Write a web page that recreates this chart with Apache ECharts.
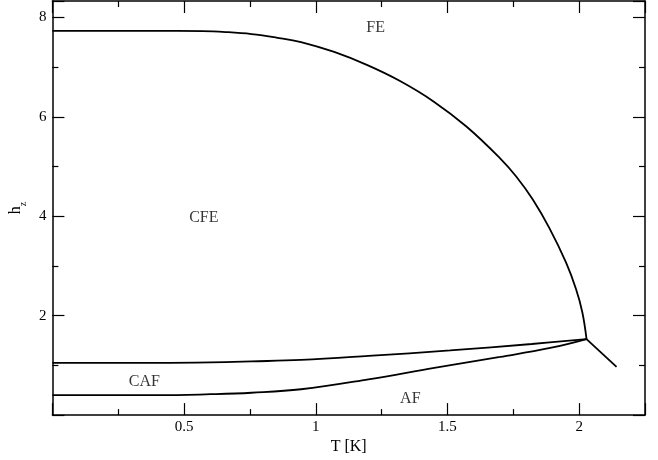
<!DOCTYPE html>
<html>
<head>
<meta charset="utf-8">
<script src="https://cdn.jsdelivr.net/npm/echarts@6/dist/echarts.min.js"></script>
<style>
html,body{margin:0;padding:0;background:#fff;}
#c{width:658px;height:460px;}
</style>
</head>
<body>
<div id="c"></div>
<script>
// Phase boundary data
const upperT = [0, 0.38, 0.57, 0.66, 0.756, 0.85, 0.944, 1.07, 1.196, 1.32, 1.447, 1.573, 1.699, 1.761, 1.824, 1.887, 1.95, 1.988, 2.012, 2.028];
const upperH = [7.73, 7.73, 7.725, 7.705, 7.665, 7.595, 7.505, 7.305, 7.04, 6.72, 6.31, 5.80, 5.17, 4.80, 4.335, 3.76, 3.07, 2.535, 2.07, 1.53];

const middleT = [0, 0.4, 0.6, 0.756, 0.944, 1.2, 1.51, 1.82, 2.028];
const middleH = [1.05, 1.05, 1.06, 1.08, 1.11, 1.19, 1.30, 1.43, 1.53];

const lowerT = [0, 0.4, 0.6, 0.756, 0.944, 1.2, 1.45, 1.7, 1.89, 2.028];
const lowerH = [0.40, 0.40, 0.42, 0.45, 0.52, 0.72, 0.95, 1.17, 1.35, 1.53];

const tailT = [2.028, 2.142];
const tailH = [1.53, 0.97];

const phaseNames = ['FE', 'CFE', 'CAF', 'AF'];
const phaseT = [1.227, 0.575, 0.349, 1.359];
const phaseH = [7.80, 3.97, 0.67, 0.33];

const xTicks = [0.5, 1, 1.5, 2];
const yTicks = [2, 4, 6, 8];

const zip = (a, b) => a.map((v, i) => [v, b[i]]);
const FONT = '"Liberation Serif", "DejaVu Serif", serif';

const lineStyle = {color: '#000', width: 1.8};
function curve(t, h) {
  return {
    type: 'line', data: zip(t, h), showSymbol: false, smooth: 0.4,
    lineStyle: lineStyle, silent: true, z: 3, xAxisIndex: 0, yAxisIndex: 0
  };
}

const axisCommon = {
  min: 0,
  axisLine: {show: true, onZero: false, lineStyle: {color: '#000', width: 1.5}},
  axisTick: {show: true, inside: true, length: 12, lineStyle: {color: '#000', width: 1.2}},
  minorTick: {show: true, splitNumber: 2, length: 6, lineStyle: {color: '#000', width: 1.2}},
  splitLine: {show: false},
  minorSplitLine: {show: false}
};

const chart = echarts.init(document.getElementById('c'));
chart.setOption({
  backgroundColor: '#fff',
  animation: false,
  grid: {left: 49.5, right: 13, top: 1, bottom: 43.5, containLabel: false},
  xAxis: [
    Object.assign({}, axisCommon, {
      type: 'value', position: 'bottom', max: 2.25, interval: 0.5,
      name: 'T [K]', nameLocation: 'middle', nameGap: 22,
      nameTextStyle: {fontFamily: FONT, fontSize: 16, color: '#000'},
      axisLabel: {
        fontFamily: FONT, fontSize: 15, color: '#000', margin: 4,
        formatter: v => xTicks.indexOf(v) >= 0 ? String(v) : ''
      }
    }),
    Object.assign({}, axisCommon, {
      type: 'value', position: 'top', max: 2.25, interval: 0.5,
      axisLabel: {show: false}
    })
  ],
  yAxis: [
    Object.assign({}, axisCommon, {
      type: 'value', position: 'left', max: 8.33, interval: 2,
      name: '{h|h}{z|z}', nameLocation: 'middle', nameGap: 22, nameRotate: 90,
      nameTextStyle: {
        fontFamily: FONT, color: '#000',
        rich: {
          h: {fontFamily: FONT, fontSize: 16, color: '#000', verticalAlign: 'bottom', lineHeight: 18},
          z: {fontFamily: FONT, fontSize: 10, color: '#000', verticalAlign: 'bottom', lineHeight: 12, padding: [0, 0, -4, 0]}
        }
      },
      axisLabel: {
        fontFamily: FONT, fontSize: 15, color: '#000', margin: 6,
        formatter: v => yTicks.indexOf(v) >= 0 ? String(v) : ''
      }
    }),
    Object.assign({}, axisCommon, {
      type: 'value', position: 'right', max: 8.33, interval: 2,
      axisLabel: {show: false}
    })
  ],
  series: [
    curve(upperT, upperH),
    curve(middleT, middleH),
    curve(lowerT, lowerH),
    {
      type: 'line', data: zip(tailT, tailH), showSymbol: false,
      lineStyle: lineStyle, silent: true, z: 3
    },
    {
      type: 'scatter', symbolSize: 0, silent: true,
      data: phaseNames.map((n, i) => ({name: n, value: [phaseT[i], phaseH[i]]})),
      label: {
        show: true, position: 'inside', formatter: p => p.name,
        fontFamily: FONT, fontSize: 16, color: '#000'
      }
    }
  ]
});
</script>
</body>
</html>
